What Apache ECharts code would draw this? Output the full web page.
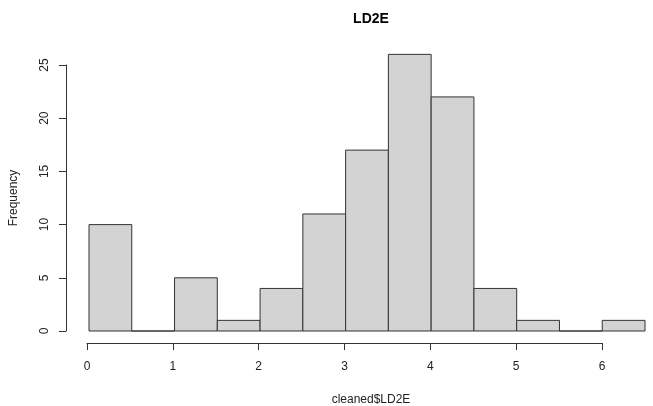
<!DOCTYPE html>
<html><head><meta charset="utf-8">
<script src="https://cdn.jsdelivr.net/npm/echarts@6/dist/echarts.min.js"></script>
<style>html,body{margin:0;padding:0;background:#fff}#c{width:653px;height:406px}</style>
</head><body><div id="c"></div>
<script>
const binStart = [0, 0.5, 1, 1.5, 2, 2.5, 3, 3.5, 4, 4.5, 5, 5.5, 6];
const binEnd   = [0.5, 1, 1.5, 2, 2.5, 3, 3.5, 4, 4.5, 5, 5.5, 6, 6.5];
const counts   = [10, 0, 5, 1, 4, 11, 17, 26, 22, 4, 1, 0, 1];
const xTicks = [0, 1, 2, 3, 4, 5, 6];
const yTicks = [0, 5, 10, 15, 20, 25];
const titleText = 'LD2E';
const xLabel = 'cleaned$LD2E';
const yLabel = 'Frequency';

const font = 'Liberation Sans, Arial, sans-serif';
const chart = echarts.init(document.getElementById('c'));
const data = binStart.map((s, i) => [s, binEnd[i], counts[i]]);
chart.setOption({
  animation: false,
  backgroundColor: '#fff',
  textStyle: { fontFamily: font },
  title: [
    { text: titleText, left: 366, top: 7, textAlign: 'center',
      textStyle: { fontFamily: font, fontSize: 14, fontWeight: 'bold', color: '#000' } },
    { text: xLabel, left: 366, top: 389, textAlign: 'center',
      textStyle: { fontFamily: font, fontSize: 12, fontWeight: 'normal', color: '#222' } }
  ],
  grid: [
    { left: 87, right: 8, top: 65, bottom: 75 },
    { left: 87, width: 515, top: 65, bottom: 75 }
  ],
  xAxis: [
    { gridIndex: 0, type: 'value', min: 0, max: 6.5, show: false },
    { gridIndex: 1, type: 'value', min: 0, max: 6, interval: 1, position: 'bottom', offset: 12,
      axisLine: { show: true, onZero: false, lineStyle: { color: '#333', width: 1 } },
      axisTick: { show: true, length: 7, inside: false, lineStyle: { color: '#333' } },
      axisLabel: { margin: 18, fontSize: 12, color: '#222', fontFamily: font,
        formatter: v => xTicks.includes(v) ? String(v) : '' },
      splitLine: { show: false } }
  ],
  yAxis: [
    { gridIndex: 0, type: 'value', min: 0, max: 25, interval: 5, offset: 23, position: 'left',
      name: yLabel, nameLocation: 'middle', nameGap: 46, nameRotate: 90,
      nameTextStyle: { fontFamily: font, fontSize: 12, color: '#222' },
      axisLine: { show: true, onZero: false, lineStyle: { color: '#333', width: 1 } },
      axisTick: { show: true, length: 7, lineStyle: { color: '#333' } },
      axisLabel: { rotate: 90, margin: 15, fontSize: 12, color: '#222', fontFamily: font,
        formatter: v => yTicks.includes(v) ? String(v) : '' },
      splitLine: { show: false } },
    { gridIndex: 1, type: 'value', min: 0, max: 25, show: false }
  ],
  series: [{
    type: 'custom',
    xAxisIndex: 0, yAxisIndex: 0,
    clip: false,
    data: data,
    renderItem: function (params, api) {
      const p0 = api.coord([api.value(0), 0]);
      const p1 = api.coord([api.value(1), api.value(2)]);
      return {
        type: 'rect',
        shape: { x: p0[0], y: p1[1], width: p1[0] - p0[0], height: p0[1] - p1[1] },
        style: { fill: '#d3d3d3', stroke: '#333', lineWidth: 1 }
      };
    }
  }]
});
</script></body></html>
